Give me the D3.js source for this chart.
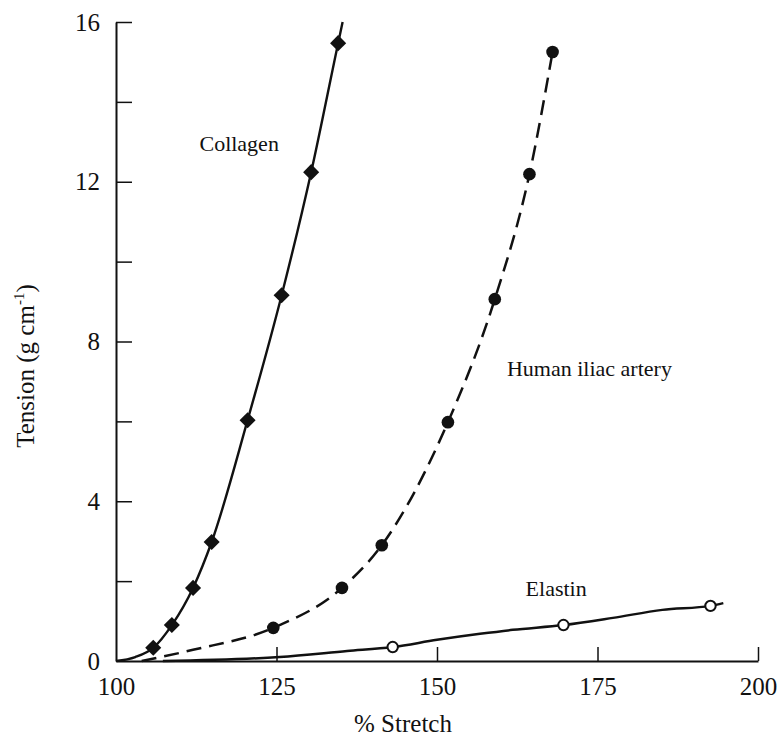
<!DOCTYPE html>
<html>
<head>
<meta charset="utf-8">
<script src="https://cdn.jsdelivr.net/npm/d3@7/dist/d3.min.js"></script>
<style>
  html, body { margin: 0; padding: 0; background: #fff; }
  svg { display: block; }
</style>
</head>
<body>
<svg id="chart" width="781" height="737"></svg>
<script>
// Tension–stretch curves for collagen, human iliac artery and elastin

// Measured points (% stretch, tension g/cm)
const collagenStretch = [105.8, 108.7, 112.0, 114.9, 120.5, 125.8, 130.4, 134.6];
const collagenTension = [0.33, 0.90, 1.83, 2.98, 6.03, 9.16, 12.24, 15.47];

const arteryStretch = [124.5, 135.2, 141.4, 151.7, 159.0, 164.4, 168.0];
const arteryTension = [0.83, 1.83, 2.90, 5.98, 9.06, 12.19, 15.25];

const elastinStretch = [143.1, 169.7, 192.6];
const elastinTension = [0.35, 0.90, 1.38];

// Fitted curve vertices (include the lead-in from the origin and tail)
const collagenCurveStretch = [100, 103.0, 105.8, 108.7, 112.0, 114.9, 120.5, 125.8, 130.4, 134.6, 135.3];
const collagenCurveTension = [0, 0.10, 0.33, 0.90, 1.83, 2.98, 6.03, 9.16, 12.24, 15.47, 16.0];

const arteryCurveStretch = [104.0, 112.0, 124.5, 135.2, 141.4, 151.7, 159.0, 164.4, 168.0];
const arteryCurveTension = [0, 0.28, 0.83, 1.83, 2.90, 5.98, 9.06, 12.19, 15.25];

const elastinCurveStretch = [107.3, 125.5, 136.0, 143.1, 150.0, 156.7, 161.8, 169.7, 177.4, 185.1, 192.6, 194.6];
const elastinCurveTension = [0, 0.10, 0.25, 0.35, 0.53, 0.68, 0.78, 0.90, 1.08, 1.28, 1.38, 1.45];

// Axis ticks
const xTicks = [100, 125, 150, 175, 200];
const yMajorTicks = [0, 4, 8, 12, 16];
const yMinorTicks = [2, 6, 10, 14];

// Series labels
const seriesNames = ["Collagen", "Human iliac artery", "Elastin"];

const svg = d3.select("#chart");
const ink = "#111";
const tickFont = "'Liberation Serif', 'Times New Roman', serif";
const labelFont = "'Liberation Serif', 'DejaVu Serif', serif";

const x = d3.scaleLinear().domain([100, 200]).range([116, 758]);
const y = d3.scaleLinear().domain([0, 16]).range([661, 22]);

const zip = (xs, ys) => xs.map((v, i) => [v, ys[i]]);

// Axes: ticks point inward into the plot
const xAxis = d3.axisBottom(x).tickValues(xTicks).tickSizeInner(-14).tickSizeOuter(0).tickPadding(24).tickFormat(d3.format("d"));
const gx = svg.append("g").attr("transform", `translate(0,${y(0)})`).call(xAxis);
gx.select(".domain").attr("stroke", ink).attr("stroke-width", 2);
gx.selectAll(".tick line").attr("stroke", ink).attr("stroke-width", 1.5);
gx.selectAll(".tick").filter(d => d === 100).select("line").remove();
gx.selectAll(".tick text")
  .attr("font-family", tickFont).attr("font-size", 25).attr("fill", ink)
  .attr("dy", "0.32em").attr("y", 26);

const yAxis = d3.axisLeft(y).tickValues(yMajorTicks.concat(yMinorTicks)).tickSizeInner(-16).tickSizeOuter(0).tickPadding(30)
  .tickFormat(d => yMajorTicks.includes(d) ? d3.format("d")(d) : "");
const gy = svg.append("g").attr("transform", `translate(${x(100)},0)`).call(yAxis);
gy.select(".domain").attr("stroke", ink).attr("stroke-width", 2);
gy.selectAll(".tick line").attr("stroke", ink).attr("stroke-width", 1.5);
gy.selectAll(".tick").filter(d => d === 0).select("line").remove();
gy.selectAll(".tick text")
  .attr("font-family", tickFont).attr("font-size", 25).attr("fill", ink)
  .attr("x", -16);

// Curves
const line = d3.line().x(d => x(d[0])).y(d => y(d[1])).curve(d3.curveMonotoneX);

svg.append("path").datum(zip(collagenCurveStretch, collagenCurveTension))
  .attr("d", line).attr("fill", "none").attr("stroke", ink).attr("stroke-width", 2.4);

svg.append("path").datum(zip(arteryCurveStretch, arteryCurveTension))
  .attr("d", line).attr("fill", "none").attr("stroke", ink).attr("stroke-width", 2.5)
  .attr("stroke-dasharray", "15 8");

svg.append("path").datum(zip(elastinCurveStretch, elastinCurveTension))
  .attr("d", line).attr("fill", "none").attr("stroke", ink).attr("stroke-width", 2.5);

// Markers
const diamond = d3.symbol().type(d3.symbolDiamond2).size(165);
svg.append("g").selectAll("path").data(zip(collagenStretch, collagenTension)).join("path")
  .attr("transform", d => `translate(${x(d[0])},${y(d[1])})`)
  .attr("d", diamond).attr("fill", ink);

svg.append("g").selectAll("circle").data(zip(arteryStretch, arteryTension)).join("circle")
  .attr("cx", d => x(d[0])).attr("cy", d => y(d[1])).attr("r", 6.3).attr("fill", ink);

svg.append("g").selectAll("circle").data(zip(elastinStretch, elastinTension)).join("circle")
  .attr("cx", d => x(d[0])).attr("cy", d => y(d[1])).attr("r", 5.2)
  .attr("fill", "#fff").attr("stroke", ink).attr("stroke-width", 2);

// Series labels, anchored in data space
const labelAnchors = [[113.0, 12.78], [160.9, 7.13], [163.8, 1.63]];
svg.append("g").selectAll("text").data(seriesNames).join("text")
  .attr("x", (d, i) => x(labelAnchors[i][0]))
  .attr("y", (d, i) => y(labelAnchors[i][1]))
  .attr("font-family", labelFont).attr("font-size", 22).attr("fill", ink)
  .text(d => d);

// Axis titles
svg.append("text").attr("x", 403).attr("y", 732).attr("text-anchor", "middle")
  .attr("font-family", labelFont).attr("font-size", 25).attr("fill", ink)
  .text("% Stretch");

const yt = svg.append("text")
  .attr("transform", "translate(34,366) rotate(-90)")
  .attr("text-anchor", "middle")
  .attr("font-family", labelFont).attr("font-size", 25).attr("fill", ink);
yt.append("tspan").text("Tension (g cm");
yt.append("tspan").attr("font-size", 15).attr("dy", -10).text("-1");
yt.append("tspan").attr("dy", 10).text(")");
</script>
</body>
</html>
